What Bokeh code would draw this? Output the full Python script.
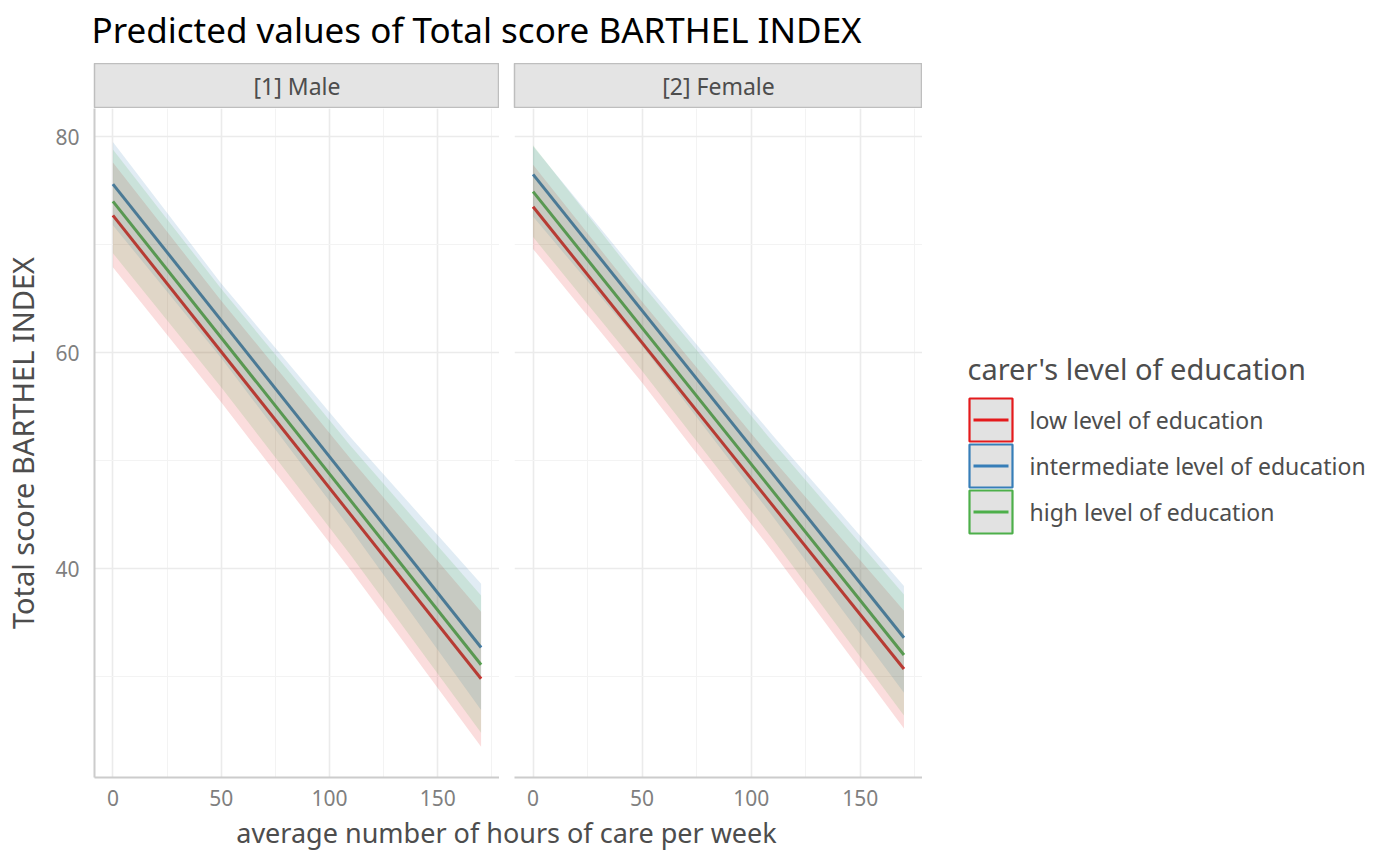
from bokeh.plotting import figure
from bokeh.layouts import row, column
from bokeh.models import Range1d, FixedTicker
from bokeh.core.properties import value
from bokeh.embed import file_html
from bokeh.resources import INLINE

FONT = "Noto Sans"

# data
hours = [0, 170]
band_hours = [0, 50, 110, 170]

education = ["low level of education", "intermediate level of education", "high level of education"]
colors = ["#E41A1C", "#377EB8", "#4DAF4A"]
panel_labels = ["[1] Male", "[2] Female"]

male_low_fit = [72.7, 29.8]
male_mid_fit = [75.6, 32.7]
male_high_fit = [74.0, 31.1]
male_low_lo = [67.9, 55.4, 39.8, 23.5]
male_low_hi = [77.6, 64.8, 50.1, 36.0]
male_mid_lo = [71.8, 59.5, 43.6, 26.9]
male_mid_hi = [79.5, 66.4, 52.1, 38.6]
male_high_lo = [69.2, 56.8, 41.2, 24.8]
male_high_hi = [78.8, 65.9, 51.3, 37.5]

female_low_fit = [73.5, 30.7]
female_mid_fit = [76.5, 33.6]
female_high_fit = [74.9, 32.0]
female_low_lo = [69.6, 57.2, 41.5, 25.2]
female_low_hi = [77.4, 64.7, 50.1, 36.1]
female_mid_lo = [72.6, 60.6, 44.8, 28.5]
female_mid_hi = [79.1, 66.8, 52.3, 38.4]
female_high_lo = [70.7, 58.3, 42.7, 26.4]
female_high_hi = [79.2, 66.3, 51.7, 37.6]

x_ticks = [0, 50, 100, 150]
x_minor = [25, 75, 125, 175]
y_ticks = [40, 60, 80]
y_minor = [30, 50, 70]

TICK_COLOR = "#7F7F7F"
TEXT_COLOR = "#4D4D4D"

FRAME_H = 669
BOTTOM = 36
PANEL_H = FRAME_H + BOTTOM


def make_strip(label, width, left):
    s = figure(width=width, height=45, x_range=Range1d(0, 1), y_range=Range1d(0, 1),
               x_axis_location=None, y_axis_location=None,
               output_backend="svg", toolbar_location=None,
               min_border_left=left, min_border_right=0, min_border_top=0, min_border_bottom=0)
    s.grid.visible = False
    s.background_fill_color = "#E4E4E4"
    s.outline_line_color = "#BEBEBE"
    s.outline_line_width = 1.5
    s.text(x=[0.5], y=[0.5], text=[label], text_align="center", text_baseline="middle",
           text_font=value(FONT), text_font_size="23px", text_color=TEXT_COLOR)
    return s


def make_panel(fits, lows, highs, width, left, show_y):
    p = figure(width=width, height=PANEL_H, x_range=Range1d(-8.5, 178.5), y_range=Range1d(20.66, 82.6),
               output_backend="svg", toolbar_location=None,
               min_border_left=left, min_border_right=0, min_border_top=0, min_border_bottom=BOTTOM)
    for fit, c in zip(fits, colors):
        p.line(hours, fit, line_color=c, line_width=3)
    for lo, hi, c in zip(lows, highs, colors):
        p.varea(x=band_hours, y1=lo, y2=hi, fill_color=c, fill_alpha=0.15)

    p.xaxis.ticker = FixedTicker(ticks=x_ticks, minor_ticks=x_minor)
    p.yaxis.ticker = FixedTicker(ticks=y_ticks, minor_ticks=y_minor)
    p.grid.grid_line_color = "#EBEBEB"
    p.grid.grid_line_width = 1.6
    p.grid.minor_grid_line_color = "#F3F3F3"
    p.grid.minor_grid_line_width = 1.0
    p.outline_line_color = None
    p.axis.major_tick_line_color = None
    p.axis.minor_tick_line_color = None
    p.axis.axis_line_color = "#CCCCCC"
    p.axis.axis_line_width = 2
    p.axis.major_label_text_font = FONT
    p.axis.major_label_text_font_size = "21px"
    p.axis.major_label_text_color = TICK_COLOR
    p.xaxis.major_label_standoff = 6
    p.yaxis.major_label_standoff = 9
    if show_y:
        p.yaxis.axis_label = "Total score BARTHEL INDEX"
        p.yaxis.axis_label_text_font = FONT
        p.yaxis.axis_label_text_font_size = "29px"
        p.yaxis.axis_label_text_font_style = "normal"
        p.yaxis.axis_label_text_color = TEXT_COLOR
        p.yaxis.axis_label_standoff = 10
    else:
        p.yaxis.visible = False
    return p


# title across the top
title_fig = figure(width=1384, height=63, x_range=Range1d(0, 1384), y_range=Range1d(63, 0),
                   x_axis_location=None, y_axis_location=None,
                   output_backend="svg", toolbar_location=None,
                   min_border=0, outline_line_color=None)
title_fig.grid.visible = False
title_fig.text(x=[91], y=[29], text=["Predicted values of Total score BARTHEL INDEX"],
               text_align="left", text_baseline="middle", text_font=value(FONT),
               text_font_size="35px", text_color="#000000")

left_panel = make_panel([male_low_fit, male_mid_fit, male_high_fit],
                        [male_low_lo, male_mid_lo, male_high_lo],
                        [male_low_hi, male_mid_hi, male_high_hi], 499, 90, True)
right_panel = make_panel([female_low_fit, female_mid_fit, female_high_fit],
                         [female_low_lo, female_mid_lo, female_high_lo],
                         [female_low_hi, female_mid_hi, female_high_hi], 423, 15, False)
right_panel.y_range = left_panel.y_range

left_col = column(make_strip(panel_labels[0], 499, 91), left_panel, spacing=0)
right_col = column(make_strip(panel_labels[1], 423, 15), right_panel, spacing=0)

# legend drawn in picture-pixel coordinates
leg_bottom = 63 + 45 + PANEL_H
leg = figure(width=462, height=45 + PANEL_H, x_range=Range1d(922, 1384), y_range=Range1d(leg_bottom, 63),
             x_axis_location=None, y_axis_location=None,
             output_backend="svg", toolbar_location=None,
             min_border=0, outline_line_color=None)
leg.grid.visible = False
leg.text(x=[967], y=[368], text=["carer's level of education"], text_align="left",
         text_baseline="middle", text_font=value(FONT), text_font_size="29px", text_color=TEXT_COLOR)
key_top = 398
key_size = 43
key_step = 46
for i, (name, c) in enumerate(zip(education, colors)):
    top = key_top + i * key_step
    mid = top + key_size / 2
    leg.quad(left=[969], right=[969 + key_size], top=[top], bottom=[top + key_size],
             fill_color="#E2E2E2", line_color=c, line_width=2.2)
    leg.segment(x0=[973], y0=[mid], x1=[969 + key_size - 4], y1=[mid], line_color=c, line_width=3)
    leg.text(x=[1029], y=[mid], text=[name], text_align="left", text_baseline="middle",
             text_font=value(FONT), text_font_size="23px", text_color=TEXT_COLOR)

# shared x axis title under both panels
xlab_h = 850 - leg_bottom
xlab = figure(width=1012, height=xlab_h, x_range=Range1d(0, 1012), y_range=Range1d(xlab_h, 0),
              x_axis_location=None, y_axis_location=None,
              output_backend="svg", toolbar_location=None,
              min_border=0, outline_line_color=None)
xlab.grid.visible = False
xlab.text(x=[506], y=[xlab_h / 2], text=["average number of hours of care per week"], text_align="center",
          text_baseline="middle", text_font=value(FONT), text_font_size="27px", text_color=TEXT_COLOR)

layout = column(title_fig, row(left_col, right_col, leg, spacing=0), xlab, spacing=0)

open("out.html", "w").write(file_html(layout, INLINE))
